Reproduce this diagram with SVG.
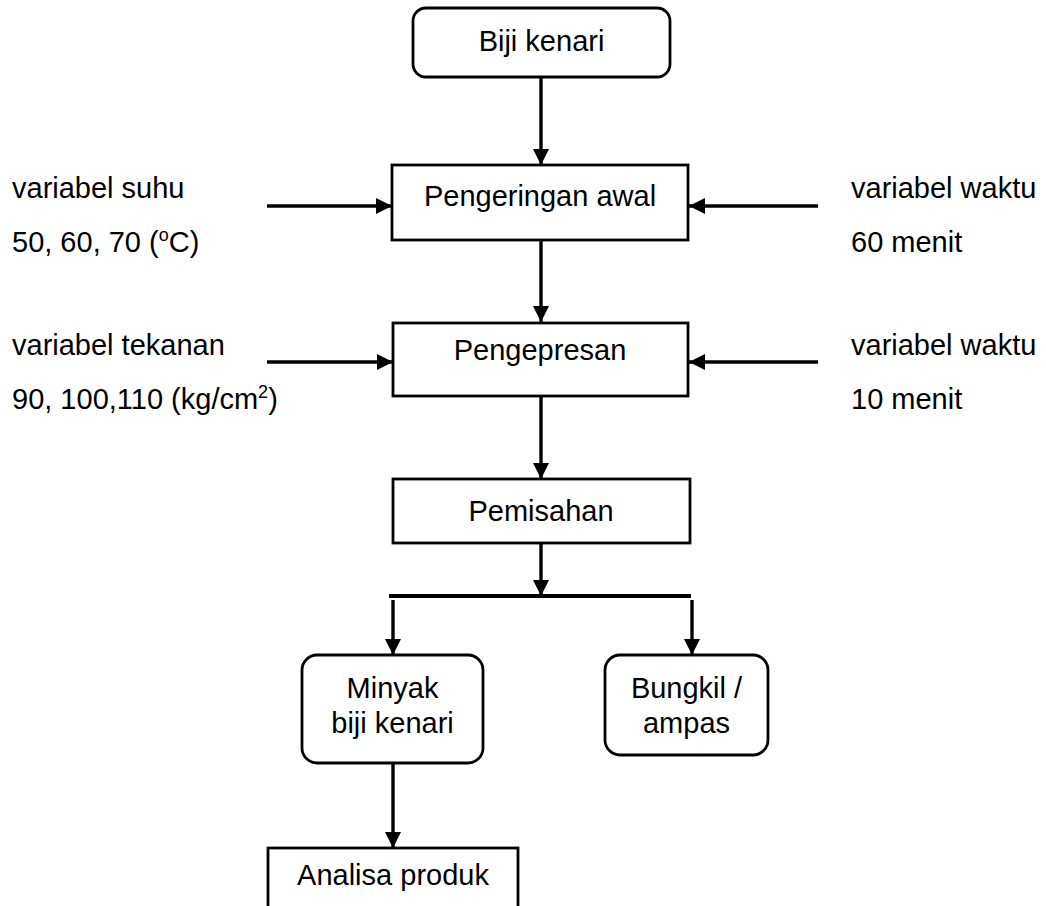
<svg xmlns="http://www.w3.org/2000/svg" width="1046" height="906" viewBox="0 0 1046 906">
<defs>
<marker id="ah" markerUnits="userSpaceOnUse" markerWidth="17" markerHeight="17" refX="16" refY="8" orient="auto">
<path d="M0,0 L16,8 L0,16 z" fill="#000"/>
</marker>
<style>
.box{fill:#fff;stroke:#000;stroke-width:2.8}
.t{font-family:"Liberation Sans",Arial,sans-serif;font-size:29px;fill:#000}
.c{text-anchor:middle}
.sup{font-size:18px}
.ln{stroke:#000;stroke-width:4;fill:none}
.arr{stroke:#000;stroke-width:3.4;fill:none;marker-end:url(#ah)}
</style>
</defs>
<rect width="1046" height="906" fill="#fff"/>
<g id="connectors">
<line class="arr" x1="541" y1="77" x2="541" y2="165"/>
<line class="arr" x1="541" y1="240" x2="541" y2="322"/>
<line class="arr" x1="541" y1="397" x2="541" y2="479"/>
<line class="arr" x1="541" y1="543" x2="541" y2="596"/>
<line class="arr" x1="267" y1="206" x2="392" y2="206"/>
<line class="arr" x1="818" y1="206" x2="689" y2="206"/>
<line class="arr" x1="267" y1="362" x2="393" y2="362"/>
<line class="arr" x1="818" y1="362" x2="689" y2="362"/>
<line class="ln" x1="389" y1="596" x2="691" y2="596"/>
<line class="arr" x1="393" y1="600" x2="393" y2="655"/>
<line class="arr" x1="692" y1="600" x2="692" y2="655"/>
<line class="arr" x1="393" y1="763" x2="393" y2="848"/>
</g>
<g id="n-biji">
<rect class="box" x="413" y="8" width="257" height="69" rx="13"/>
<text class="t c" x="541.5" y="51">Biji kenari</text>
</g>
<g id="n-pengeringan">
<rect class="box" x="392" y="165" width="296" height="75"/>
<text class="t c" x="540" y="206">Pengeringan awal</text>
</g>
<g id="n-pengepresan">
<rect class="box" x="393" y="323" width="295" height="73"/>
<text class="t c" x="540" y="360">Pengepresan</text>
</g>
<g id="n-pemisahan">
<rect class="box" x="393" y="479" width="297" height="64"/>
<text class="t c" x="541" y="521">Pemisahan</text>
</g>
<g id="n-minyak">
<rect class="box" x="302" y="655" width="181" height="108" rx="15"/>
<text class="t c" x="392.5" y="698">Minyak</text>
<text class="t c" x="392.5" y="733">biji kenari</text>
</g>
<g id="n-bungkil">
<rect class="box" x="605" y="655" width="163" height="100" rx="15"/>
<text class="t c" x="686.5" y="698">Bungkil /</text>
<text class="t c" x="686.5" y="733">ampas</text>
</g>
<g id="n-analisa">
<rect class="box" x="268" y="848" width="250" height="70"/>
<text class="t c" x="393" y="885">Analisa produk</text>
</g>
<g id="labels">
<text class="t" x="12" y="198">variabel suhu</text>
<text class="t" x="12" y="252">50, 60, 70 (<tspan class="sup" dy="-11">o</tspan><tspan dy="11">C)</tspan></text>
<text class="t" x="851" y="198">variabel waktu</text>
<text class="t" x="851" y="252">60 menit</text>
<text class="t" x="12" y="355">variabel tekanan</text>
<text class="t" x="12" y="409">90, 100,110 (kg/cm<tspan class="sup" dy="-11">2</tspan><tspan dy="11">)</tspan></text>
<text class="t" x="851" y="355">variabel waktu</text>
<text class="t" x="851" y="409">10 menit</text>
</g>
</svg>
